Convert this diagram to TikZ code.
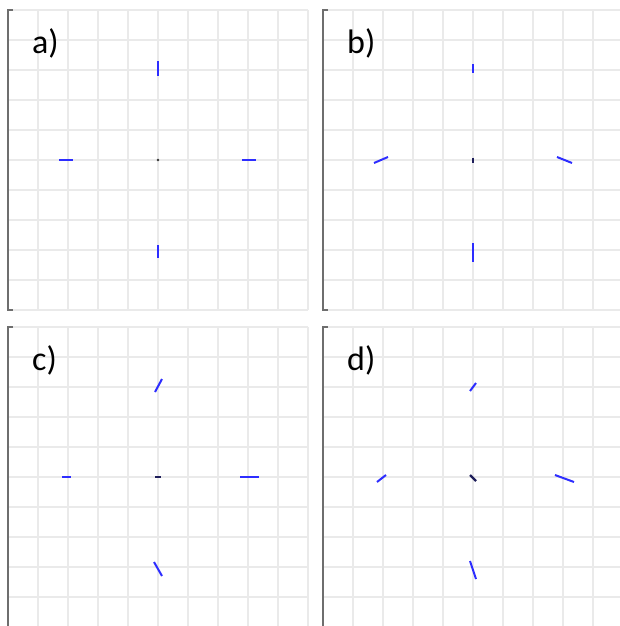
\documentclass[tikz,border=0pt]{standalone}
\usepackage{fontspec}
\setmainfont{Carlito}
\definecolor{gridgray}{RGB}{234,234,234}
\definecolor{brackgray}{RGB}{110,110,110}
\definecolor{segblue}{RGB}{45,45,255}
\definecolor{ctrdark}{RGB}{30,30,90}
\begin{document}
\begin{tikzpicture}[x=1pt,y=-1pt,
  gridline/.style={draw=gridgray,line width=1.6pt},
  bracket/.style={draw=brackgray,line width=1.6pt},
  seg/.style={draw=segblue,line width=2pt},
  ctr/.style={draw=ctrdark,line width=2.2pt},
  lab/.style={anchor=base west,inner sep=0pt,font=\fontsize{34}{38}\selectfont}]
\useasboundingbox (0,0) rectangle (620,626);
\clip (0,0) rectangle (620,626);
\foreach \ox/\oy/\lab/\nm in {8/10/a)/la, 323/10/b)/lb, 8/327/c)/lc, 323/327/d)/ld} {
  \foreach \i in {0,...,10} {
    \draw[gridline] (\ox+30*\i,\oy) -- (\ox+30*\i,\oy+300);
    \draw[gridline] (\ox,\oy+30*\i) -- (\ox+300,\oy+30*\i);
  }
  \draw[bracket] (\ox+5,\oy) -- (\ox,\oy) -- (\ox,\oy+300) -- (\ox+5,\oy+300);
  \node[lab] (\nm) at (\ox+24,\oy+43) {\lab};
}
% panel a
\draw[seg] (158,61) -- (158,76);
\draw[seg] (158,245) -- (158,258);
\draw[seg] (59,160) -- (73,160);
\draw[seg] (242,160) -- (256,160);
\fill[black!80] (158,160) circle (1.3);
% panel b
\draw[seg] (473,64) -- (473,73);
\draw[seg] (473,243) -- (473,262);
\draw[seg] (374,163) -- (388,157);
\draw[seg] (557,157) -- (572,163);
\draw[ctr] (473,157.5) -- (473,162.5);
% panel c
\draw[seg] (155,392) -- (162,379);
\draw[seg] (154,562) -- (162,576);
\draw[seg] (62,477) -- (71,477);
\draw[seg] (240,477) -- (259,477);
\draw[ctr] (155,477) -- (161,477);
% panel d
\draw[seg] (470,391) -- (476,383);
\draw[seg] (470,561) -- (476,579);
\draw[seg] (377,482) -- (386,475);
\draw[seg] (555,475) -- (574,482);
\draw[ctr] (470,475) -- (476,481);
\end{tikzpicture}
\end{document}
